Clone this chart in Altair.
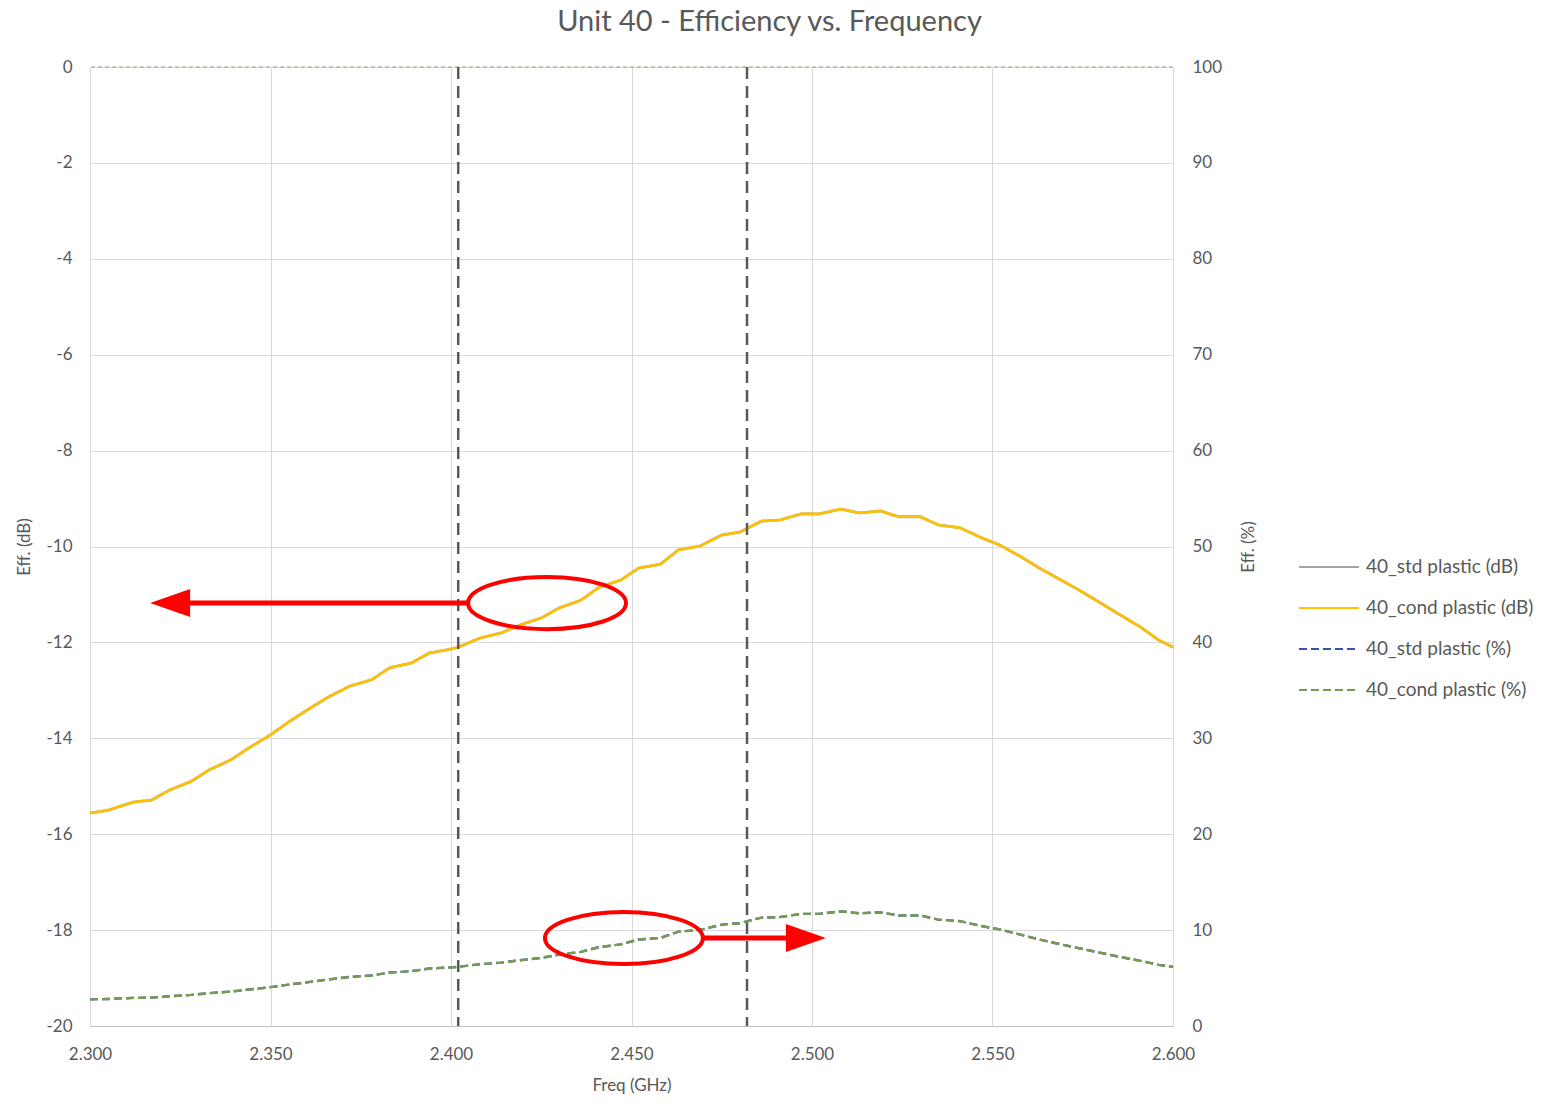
import altair as alt
import pandas as pd

# ---------------- data ----------------
freq = [2.300, 2.305, 2.312, 2.317, 2.322, 2.328, 2.333, 2.339, 2.344, 2.350,
        2.355, 2.361, 2.366, 2.372, 2.378, 2.383, 2.389, 2.394, 2.400, 2.402,
        2.408, 2.414, 2.419, 2.425, 2.430, 2.436, 2.441, 2.447, 2.452, 2.458,
        2.463, 2.469, 2.475, 2.480, 2.486, 2.491, 2.497, 2.502, 2.508, 2.513,
        2.519, 2.524, 2.530, 2.535, 2.541, 2.547, 2.552, 2.558, 2.563, 2.569,
        2.574, 2.580, 2.585, 2.591, 2.596, 2.600]

eff_db = [-15.56, -15.50, -15.33, -15.29, -15.08, -14.90, -14.66, -14.45, -14.20, -13.93,
          -13.66, -13.37, -13.14, -12.91, -12.78, -12.53, -12.43, -12.22, -12.14, -12.10,
          -11.91, -11.80, -11.64, -11.49, -11.28, -11.12, -10.85, -10.70, -10.45, -10.37,
          -10.07, -9.99, -9.76, -9.70, -9.47, -9.45, -9.32, -9.32, -9.22, -9.30,
          -9.26, -9.38, -9.38, -9.55, -9.61, -9.82, -9.97, -10.22, -10.45, -10.70,
          -10.91, -11.18, -11.41, -11.68, -11.95, -12.10]

eff_pct = [2.78, 2.82, 2.93, 2.96, 3.10, 3.24, 3.42, 3.59, 3.80, 4.05,
           4.31, 4.60, 4.85, 5.12, 5.27, 5.58, 5.71, 6.00, 6.11, 6.17,
           6.44, 6.61, 6.85, 7.10, 7.45, 7.73, 8.22, 8.51, 9.02, 9.18,
           9.84, 10.02, 10.57, 10.72, 11.30, 11.35, 11.69, 11.69, 11.97, 11.75,
           11.86, 11.53, 11.53, 11.09, 10.94, 10.42, 10.07, 9.51, 9.02, 8.51,
           8.11, 7.62, 7.23, 6.79, 6.38, 6.17]

series = ["40_std plastic (dB)", "40_cond plastic (dB)",
          "40_std plastic (%)", "40_cond plastic (%)"]
series_colors = ["#A5A5A5", "#FFC000", "#2F55A4", "#7A9A50"]
series_dash = [[1, 0], [1, 0], [8, 4], [8, 4]]

band_edges = [2.402, 2.482]

x_ticks = [2.30, 2.35, 2.40, 2.45, 2.50, 2.55, 2.60]
y_db_ticks = [-20, -18, -16, -14, -12, -10, -8, -6, -4, -2, 0]
y_pct_ticks = [0, 10, 20, 30, 40, 50, 60, 70, 80, 90, 100]

# annotation anchors (data coords)
ell_db = {"freq": [2.4266], "v": [-11.18]}
arrow_db = {"f1": [2.4053], "f2": [2.3277], "v": [-11.18]}
head_db = {"freq": [2.3222], "v": [-11.18]}
ell_pct = {"freq": [2.4479], "v": [9.18]}
arrow_pct = {"f1": [2.4701], "f2": [2.4939], "v": [9.18]}
head_pct = {"freq": [2.4983], "v": [9.18]}

FONT = "Lato"
TXT = "#595959"

# ---------------- build ----------------
def df_for(vals, name):
    return pd.DataFrame({"freq": freq, "v": vals, "series": name})

color_scale = alt.Scale(domain=series, range=series_colors)
dash_scale = alt.Scale(domain=series, range=series_dash)

x_enc = alt.X("freq:Q", scale=alt.Scale(domain=[2.3, 2.6], nice=False),
              axis=alt.Axis(values=x_ticks, format=".3f", title="Freq (GHz)",
                            grid=True, gridColor="#D9D9D9", domain=True,
                            domainColor="#BFBFBF", ticks=False, labelPadding=20,
                            labelFlush=False, titlePadding=15))

y_db_scale = alt.Scale(domain=[-20, 0], nice=False)
y_pct_scale = alt.Scale(domain=[0, 100], nice=False)

y_db_axis = alt.Axis(values=y_db_ticks, title="Eff. (dB)", grid=True,
                     gridColor="#D9D9D9", domain=False, ticks=False,
                     labelExpr="'' + datum.value",
                     labelPadding=18, titlePadding=12)
y_pct_axis = alt.Axis(values=y_pct_ticks, title="Eff. (%)", orient="right",
                      grid=False, domain=False, ticks=False, labelPadding=19,
                      titlePadding=36, titleAngle=270)


def line_layer(vals, name, yaxis, yscale, width):
    return alt.Chart(df_for(vals, name)).mark_line(strokeWidth=width).encode(
        x=x_enc,
        y=alt.Y("v:Q", scale=yscale, axis=yaxis),
        color=alt.Color("series:N", scale=color_scale, title=None,
                        legend=alt.Legend(orient="none", legendX=1208, legendY=469,
                                          symbolType="stroke", symbolSize=3600,
                                          symbolStrokeWidth=2, labelFontSize=19,
                                          labelColor=TXT, labelFont=FONT,
                                          labelLimit=400,
                                          rowPadding=-3, labelOffset=6)),
        strokeDash=alt.StrokeDash("series:N", scale=dash_scale, title=None),
    )


ellipse_path = "M -1 0 A 1 0.33 0 1 0 1 0 A 1 0.33 0 1 0 -1 0 Z"
head_left = "M -1 0 L 1 -0.7 L 1 0.7 Z"
head_right = "M 1 0 L -1 -0.7 L -1 0.7 Z"

# ----- dB layer -----
gray_db = line_layer(eff_db, series[0], y_db_axis, y_db_scale, 2.8)
yellow_db = line_layer(eff_db, series[1], y_db_axis, y_db_scale, 2.6)

vrules = alt.Chart(pd.DataFrame({"freq": band_edges})).mark_rule(
    color="#595959", strokeWidth=2.5, strokeDash=[12, 7]).encode(x="freq:Q")

top_rule = alt.Chart(pd.DataFrame({"v": [0]})).mark_rule(
    color="#8FA67F", strokeWidth=1.2, strokeDash=[4, 3]).encode(
    y=alt.Y("v:Q", scale=y_db_scale))

ell1 = alt.Chart(pd.DataFrame(ell_db)).mark_point(
    shape=ellipse_path, size=24964, filled=False, color="#FF0000",
    strokeWidth=4, opacity=1).encode(x="freq:Q", y=alt.Y("v:Q", scale=y_db_scale))
arr1 = alt.Chart(pd.DataFrame(arrow_db)).mark_rule(
    color="#FF0000", strokeWidth=5).encode(x="f1:Q", x2="f2:Q",
                                            y=alt.Y("v:Q", scale=y_db_scale))
hd1 = alt.Chart(pd.DataFrame(head_db)).mark_point(
    shape=head_left, size=1600, filled=True, color="#FF0000", opacity=1,
    strokeWidth=0).encode(x="freq:Q", y=alt.Y("v:Q", scale=y_db_scale))

db_layer = alt.layer(top_rule, gray_db, yellow_db, vrules, ell1, arr1, hd1)

# ----- % layer -----
blue_pct = line_layer(eff_pct, series[2], y_pct_axis, y_pct_scale, 2.4)
green_pct = line_layer(eff_pct, series[3], y_pct_axis, y_pct_scale, 2.4)

ell2 = alt.Chart(pd.DataFrame(ell_pct)).mark_point(
    shape=ellipse_path, size=24964, filled=False, color="#FF0000",
    strokeWidth=4, opacity=1).encode(x="freq:Q", y=alt.Y("v:Q", scale=y_pct_scale))
arr2 = alt.Chart(pd.DataFrame(arrow_pct)).mark_rule(
    color="#FF0000", strokeWidth=5).encode(x="f1:Q", x2="f2:Q",
                                            y=alt.Y("v:Q", scale=y_pct_scale))
hd2 = alt.Chart(pd.DataFrame(head_pct)).mark_point(
    shape=head_right, size=1600, filled=True, color="#FF0000", opacity=1,
    strokeWidth=0).encode(x="freq:Q", y=alt.Y("v:Q", scale=y_pct_scale))

pct_layer = alt.layer(blue_pct, green_pct, ell2, arr2, hd2)

chart = alt.layer(db_layer, pct_layer).resolve_scale(
    y="independent"
).properties(
    width=1083, height=959,
    autosize=alt.AutoSizeParams(type="none"),
    padding={"left": 82, "top": 59, "right": 367, "bottom": 69},
    title=alt.TitleParams("Unit 40 - Efficiency vs. Frequency", fontSize=29,
                          color=TXT, font=FONT, fontWeight="normal",
                          anchor="middle", dx=138, offset=21),
).configure_view(stroke=None).configure_axis(
    labelFont=FONT, labelFontSize=17, labelColor=TXT,
    titleFont=FONT, titleFontSize=17, titleColor=TXT, titleFontWeight="normal",
)

chart.save("out.html", embed_options={"renderer": "svg", "actions": False})
